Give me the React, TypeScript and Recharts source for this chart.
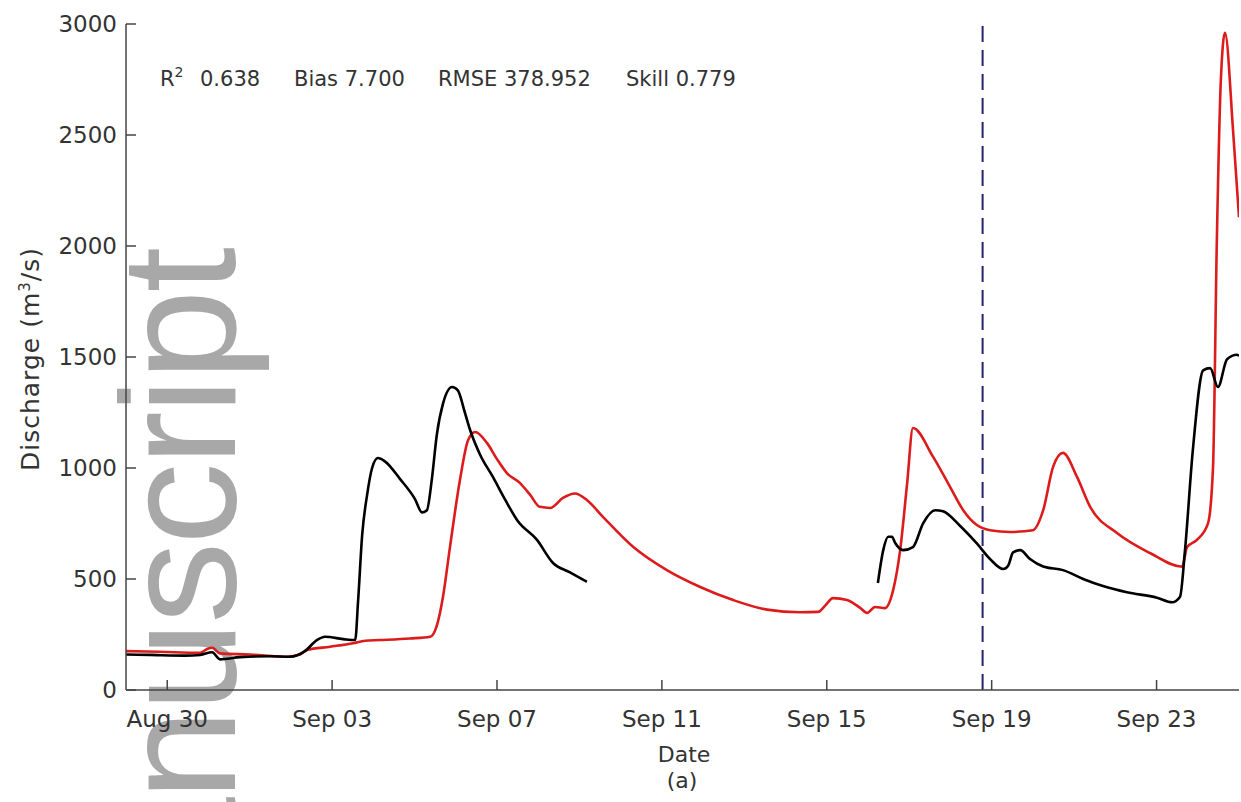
import { Line, LineChart, ReferenceLine, XAxis, YAxis } from "recharts";

// x values are days counted from Aug 29 00:00
const tickDays = [1, 5, 9, 13, 17, 21, 25];
const tickLabels = ["Aug 30", "Sep 03", "Sep 07", "Sep 11", "Sep 15", "Sep 19", "Sep 23"];
const yTicks = [0, 500, 1000, 1500, 2000, 2500, 3000];

// observed discharge (black), null marks the gap in the record
const obsDays = [
  0, 0.58, 1.43, 1.8, 2.09, 2.28, 2.77, 3.49, 3.98, 4.34, 4.63, 4.83, 5.31, 5.56, 5.63, 5.73,
  5.85, 5.97, 6.11, 6.28, 6.65, 7.01, 7.18, 7.3, 7.42, 7.54, 7.69, 7.91, 8.05, 8.22, 8.35, 8.59,
  8.9, 9.19, 9.49, 9.97, 10.36, 10.77, 11.18, 14, 18.24, 18.37, 18.49, 18.58, 18.66, 18.85,
  19.09, 19.34, 19.63, 19.82, 20.23, 20.64, 20.96, 21.28, 21.4, 21.52, 21.69, 21.93, 22.25,
  22.73, 23.22, 23.7, 24.28, 25.01, 25.38, 25.57, 25.69, 25.88, 26.13, 26.3, 26.49, 26.71,
  26.95, 27,
];
const obsQ = [
  160, 158, 155, 158, 170, 138, 148, 152, 150, 175, 225, 240, 228, 225, 400, 700,
  880, 1000, 1045, 1030, 950, 860, 800, 810, 950, 1150, 1290, 1365, 1350, 1250, 1170, 1060,
  960, 860, 765, 676, 572, 530, 487, null, 482, 630, 690, 690, 662, 630,
  644, 752, 810, 805, 740, 660, 590, 545, 560, 620, 630, 590, 556,
  540, 500, 468, 440, 416, 395, 420, 630, 1080, 1440, 1450, 1365, 1490,
  1510, 1505,
];

// modelled discharge (red)
const modelDays = [
  0, 0.82, 1.8, 1.97, 2.09, 2.28, 3.01, 3.91, 4.22, 4.39, 4.95, 5.51, 5.8, 6.16, 6.89, 7.38,
  7.54, 7.69, 7.86, 8.1, 8.3, 8.47, 8.76, 9.0, 9.24, 9.56, 9.8, 10.04, 10.29, 10.6, 10.89,
  11.18, 11.57, 12.3, 13.12, 13.93, 14.73, 15.55, 16.35, 16.79, 16.96, 17.15, 17.49, 17.81,
  17.98, 18.17, 18.41, 18.61, 18.78, 18.95, 19.09, 19.58, 19.99, 20.31, 20.64, 20.96, 21.45,
  22.0, 22.25, 22.49, 22.73, 23.07, 23.39, 24.04, 24.84, 25.62, 25.74, 25.98, 26.25, 26.37,
  26.46, 26.56, 26.66, 26.86, 27,
];
const modelQ = [
  175, 172, 168, 185, 190, 165, 160, 150, 160, 180, 195, 211, 222, 225, 232, 240,
  290, 420, 645, 945, 1126, 1162, 1112, 1040, 977, 932, 880, 825, 820, 865, 885,
  856, 780, 645, 540, 464, 405, 362, 350, 352, 380, 414, 405, 370,
  347, 374, 369, 450, 630, 932, 1180, 1050, 915, 810, 743, 720, 712,
  720, 810, 1005, 1068, 960, 825, 707, 617, 555, 644, 676, 752, 1005,
  2000, 2750, 2960, 2509, 2130,
];

const forecastStart = 20.78;

const statLabels = ["Bias", "RMSE", "Skill"];
const statValues = ["0.638", "7.700", "378.952", "0.779"];

const observed = obsDays.map((t, i) => ({ t, q: obsQ[i] }));
const modelled = modelDays.map((t, i) => ({ t, q: modelQ[i] }));

const font = "DejaVu Sans";
const textColor = "#333";

export default function App() {
  return (
    <div style={{ position: "absolute", left: 0, top: 0, width: 1241, height: 802, background: "#fff" }}>
      <svg width={1241} height={802} style={{ position: "absolute", left: 0, top: 0 }}>
        <text
          transform="translate(235,250) rotate(-90)"
          textAnchor="end"
          fontFamily="Liberation Sans"
          fontSize={164}
          letterSpacing={-3}
          fill="#a8a8a8"
        >
          Manuscript
        </text>
      </svg>
      <div style={{ position: "absolute", left: 0, top: 0 }}>
        <LineChart width={1241} height={802} margin={{ top: 24, right: 2, bottom: 0, left: 0 }}>
          <XAxis
            type="number"
            dataKey="t"
            domain={[0, 27]}
            ticks={tickDays}
            allowDataOverflow
            height={112}
            tickSize={-10}
            tickMargin={31}
            stroke="#444"
            strokeWidth={1.5}
            tick={{ fill: textColor, fontSize: 23, fontFamily: font }}
            tickFormatter={(v: number) => tickLabels[tickDays.indexOf(v)] ?? ""}
          />
          <XAxis
            xAxisId="top"
            orientation="top"
            type="number"
            dataKey="t"
            domain={[0, 27]}
            ticks={tickDays}
            allowDataOverflow
            height={0}
            tickSize={-10}
            stroke="#888"
            tickFormatter={() => ""}
          />
          <YAxis
            type="number"
            domain={[0, 3000]}
            ticks={yTicks}
            allowDataOverflow
            width={126}
            tickSize={-10}
            tickMargin={19}
            stroke="#444"
            strokeWidth={1.5}
            tick={{ fill: textColor, fontSize: 23, fontFamily: font }}
          />
          <YAxis
            yAxisId="right"
            orientation="right"
            type="number"
            domain={[0, 3000]}
            ticks={yTicks}
            width={0}
            tickSize={-10}
            stroke="#888"
            tickFormatter={() => ""}
          />
          <ReferenceLine x={forecastStart} stroke="#23236b" strokeWidth={2} strokeDasharray="16 8" />
          <Line
            data={modelled}
            dataKey="q"
            type="monotone"
            stroke="#dc1c1c"
            strokeWidth={2.6}
            dot={false}
            isAnimationActive={false}
          />
          <Line
            data={observed}
            dataKey="q"
            type="monotone"
            stroke="#000"
            strokeWidth={2.6}
            dot={false}
            connectNulls={false}
            isAnimationActive={false}
          />
        </LineChart>
      </div>
      <svg
        width={1241}
        height={802}
        style={{ position: "absolute", left: 0, top: 0, pointerEvents: "none" }}
        fontFamily={font}
        fill={textColor}
      >
        <text x={160} y={86} fontSize={21}>
          R<tspan dy={-9} fontSize={14}>2</tspan>
        </text>
        <text x={200} y={86} fontSize={21}>{statValues[0]}</text>
        <text x={294} y={86} fontSize={21}>{statLabels[0]} {statValues[1]}</text>
        <text x={438} y={86} fontSize={21}>{statLabels[1]} {statValues[2]}</text>
        <text x={626} y={86} fontSize={21}>{statLabels[2]} {statValues[3]}</text>
        <text transform="translate(39,359) rotate(-90)" textAnchor="middle" fontSize={25} letterSpacing={1}>
          Discharge (m<tspan dy={-9} fontSize={15}>3</tspan>
          <tspan dy={9}>/s)</tspan>
        </text>
        <text x={684} y={762} textAnchor="middle" fontSize={22}>Date</text>
        <text x={682} y={788} textAnchor="middle" fontSize={22}>(a)</text>
      </svg>
    </div>
  );
}
